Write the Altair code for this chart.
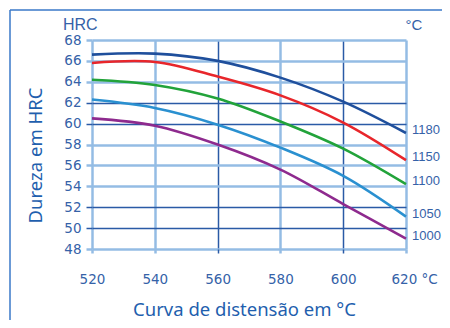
import altair as alt
import pandas as pd

temps = [520, 540, 560, 580, 600, 620]
series_names = ["1180", "1150", "1100", "1050", "1000"]
hrc_1180 = [66.6, 66.7, 66.0, 64.4, 62.1, 59.1]
hrc_1150 = [65.8, 65.9, 64.5, 62.7, 60.1, 56.5]
hrc_1100 = [64.2, 63.7, 62.4, 60.2, 57.6, 54.2]
hrc_1050 = [62.3, 61.5, 59.9, 57.7, 55.0, 51.1]
hrc_1000 = [60.5, 59.8, 58.0, 55.6, 52.3, 49.0]
line_colors = ["#1f4f9c", "#e8262b", "#22a33a", "#2a90d0", "#8e2a8e"]
y_ticks = [48, 50, 52, 54, 56, 58, 60, 62, 64, 66, 68]
x_ticks = [520, 540, 560, 580, 600, 620]

rows = []
for name, vals in zip(series_names, [hrc_1180, hrc_1150, hrc_1100, hrc_1050, hrc_1000]):
    for t, v in zip(temps, vals):
        rows.append({"temp": t, "hrc": v, "series": name})
df = pd.DataFrame(rows)

DARK = "#2a5aa6"
LIGHT = "#94bce4"
TXT = "#3562a8"
TITLE = "#1f5fae"

ytest = "datum.value == 50 || datum.value == 52 || datum.value == 60 || datum.value == 62"
xtest = "datum.value == 560 || datum.value == 600"

def cond(test, a, b):
    return {"condition": {"test": test, "value": a}, "value": b}

x_enc = alt.X(
    "temp:Q",
    scale=alt.Scale(domain=[520, 620], nice=False, zero=False),
    axis=alt.Axis(
        values=x_ticks, title="Curva de distensão em °C", domain=False,
        grid=True, gridColor=cond(xtest, DARK, LIGHT), gridWidth=cond(xtest, 1.5, 2.5),
        tickColor=cond(xtest, DARK, LIGHT), tickWidth=cond(xtest, 1.5, 2.5), tickSize=4,
        labelExpr="datum.value == 620 ? '620 °C' : datum.label",
        labelAlign=cond("datum.value == 620", "left", "center"),
        labelOffset=cond("datum.value == 620", -15, 0),
        labelPadding=19, labelFont="DejaVu Sans", labelFontSize=13.5, labelColor=TXT,
        titleFont="Noto Sans", titleFontSize=18.5, titleFontWeight="normal", titleColor=TITLE,
        titleX=152, titleY=66, titleBaseline="alphabetic", titleAlign="center",
    ),
)

y_left = alt.Y(
    "hrc:Q",
    scale=alt.Scale(domain=[48, 68], nice=False, zero=False),
    axis=alt.Axis(
        values=y_ticks, title="Dureza em HRC", domain=False,
        grid=True, gridColor=cond(ytest, DARK, LIGHT), gridWidth=cond(ytest, 1.5, 2.5),
        tickColor=cond(ytest, DARK, LIGHT), tickWidth=cond(ytest, 1.5, 2.5), tickSize=6,
        labelPadding=5, labelFont="DejaVu Sans", labelFontSize=13.5, labelColor=TXT,
        titleFont="Noto Sans", titleFontSize=18.5, titleFontWeight="normal", titleColor=TITLE,
        titleX=-57, titleY=115, titleAngle=-90, titleAlign="center", titleBaseline="middle",
    ),
)

y_right = alt.Y(
    "hrc:Q",
    scale=alt.Scale(domain=[48, 68], nice=False, zero=False),
    axis=alt.Axis(
        orient="right", labels=False, ticks=False, domain=False, grid=False,
        title="°C", titleAngle=0, titleX=-1, titleY=-16, titleAlign="left",
        titleBaseline="middle", titleFont="Liberation Sans", titleFontSize=15,
        titleFontWeight="normal", titleColor=TXT,
    ),
)

lines = alt.Chart(df).mark_line(interpolate="catmull-rom", strokeWidth=2.6).encode(
    x=x_enc,
    y=y_left,
    color=alt.Color("series:N", scale=alt.Scale(domain=series_names, range=line_colors), legend=None),
    detail="series:N",
)

labels = alt.Chart(df).transform_filter("datum.temp == 620").mark_text(
    align="left", baseline="middle", dx=6, dy=-3, font="Liberation Sans", fontSize=13, color=TXT
).encode(x=x_enc, y=y_right, text="series:N")

frame_df = pd.DataFrame({"a": [0]})
frame_top = alt.Chart(frame_df).mark_rule(color="#3a78c8", strokeWidth=1.5).encode(
    x=alt.value(-82), x2=alt.value(360), y=alt.value(-30)
)
frame_left = alt.Chart(frame_df).mark_rule(color="#3a78c8", strokeWidth=1.5).encode(
    x=alt.value(-82), y=alt.value(-30), y2=alt.value(300)
)

chart = alt.layer(lines, labels, frame_top, frame_left).resolve_axis(y="independent").properties(
    width=314, height=209,
    title=alt.TitleParams("HRC", anchor="start", frame="group", dx=-29, offset=-24,
                          font="Liberation Sans", fontSize=16, fontWeight="normal", color=TXT),
    autosize=alt.AutoSizeParams(type="none"),
    padding={"left": 84, "top": 32, "right": 36, "bottom": 71},
).configure_view(stroke=None)

chart.save("out.html", embed_options={"renderer": "svg", "actions": False})
